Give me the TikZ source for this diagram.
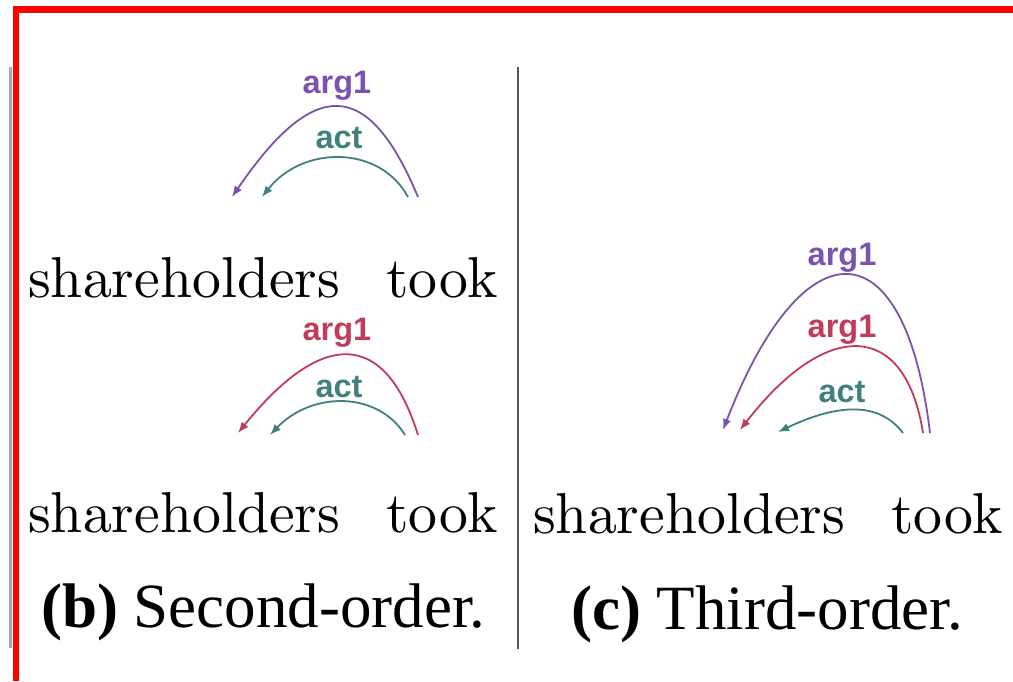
\documentclass[tikz,border=0pt]{standalone}
\usepackage{fontspec}
\newfontfamily\wordfont{lmroman10-regular}[Extension=.otf]
\newfontfamily\capfont{Liberation Serif}
\newfontfamily\labfont{Liberation Sans}
\usetikzlibrary{arrows.meta}
\definecolor{argpurple}{RGB}{123,82,174}
\definecolor{argred}{RGB}{193,60,88}
\definecolor{actteal}{RGB}{64,128,125}
\definecolor{divgray}{RGB}{85,85,85}
\definecolor{edgegray}{RGB}{170,170,170}
\begin{document}
\begin{tikzpicture}[x=1pt,y=-1pt,
  wordtext/.style={inner sep=0pt, anchor=base west, font=\wordfont\fontsize{57.7}{60}\selectfont},
  captext/.style={inner sep=0pt, anchor=base west, font=\capfont\fontsize{63}{65}\selectfont},
  labtext/.style={inner sep=0pt, anchor=base, font=\labfont\bfseries\fontsize{32.5}{34}\selectfont},
  arcline/.style={line width=1.8pt, -{Latex[length=11pt,width=8.5pt]}},
  redframe/.style={red, line width=6.5pt},
]
\useasboundingbox (0,0) rectangle (1013,681);
\fill[white] (0,0) rectangle (1013,681);

% edges
\draw[edgegray, line width=2.5pt] (10.5,67) -- (10.5,648);
\draw[redframe] (16,681) -- (16,9.7) -- (1013,9.7);
\draw[divgray, line width=2.5pt] (518,67) -- (518,649);

% words
\node[wordtext] (sh1) at (28,297) {shareholders};
\node[wordtext] (tk1) at (386,297) {took};
\node[wordtext] (sh2) at (28,532) {shareholders};
\node[wordtext] (tk2) at (386,532) {took};
\node[wordtext] (sh3) at (533,533) {shareholders};
\node[wordtext] (tk3) at (891,533) {took};

% captions
\node[captext] (capb) at (41,627) {\bfseries (b)\mdseries{} Second-order.};
\node[captext] (capc) at (571,629) {\bfseries (c)\mdseries{} Third-order.};

% arc endpoints
\coordinate (b1ps) at (418,197); \coordinate (b1pe) at (232,197);
\coordinate (b1ts) at (408,197); \coordinate (b1te) at (262,197);
\coordinate (b2rs) at (418,435); \coordinate (b2re) at (238,433);
\coordinate (b2ts) at (405,435); \coordinate (b2te) at (270,435);
\coordinate (cps) at (930,433); \coordinate (cpe) at (723,430);
\coordinate (crs) at (923,433); \coordinate (cre) at (740,430);
\coordinate (cts) at (903,433); \coordinate (cte) at (778,432);

% arcs
\draw[arcline, argpurple] (b1ps) .. controls (368,77) and (314,77) .. (b1pe);
\draw[arcline, actteal] (b1ts) .. controls (380,145) and (303,145) .. (b1te);
\draw[arcline, argred] (b2rs) .. controls (385,329) and (322,329) .. (b2re);
\draw[arcline, actteal] (b2ts) .. controls (378,391) and (312,391) .. (b2te);
\draw[arcline, argpurple] (cps) .. controls (905,223) and (803,223) .. (cpe);
\draw[arcline, argred] (crs) .. controls (905,319) and (826,319) .. (cre);
\draw[arcline, actteal] (cts) .. controls (880,402.5) and (840,402.5) .. (cte);

% labels
\node[labtext, text=argpurple] (lb1a) at (337,93) {arg1};
\node[labtext, text=actteal] (lb1b) at (339,148) {act};
\node[labtext, text=argred] (lb2a) at (337,340) {arg1};
\node[labtext, text=actteal] (lb2b) at (339,397) {act};
\node[labtext, text=argpurple] (lc1) at (842,265) {arg1};
\node[labtext, text=argred] (lc2) at (842,337) {arg1};
\node[labtext, text=actteal] (lc3) at (842,402) {act};
\end{tikzpicture}
\end{document}
